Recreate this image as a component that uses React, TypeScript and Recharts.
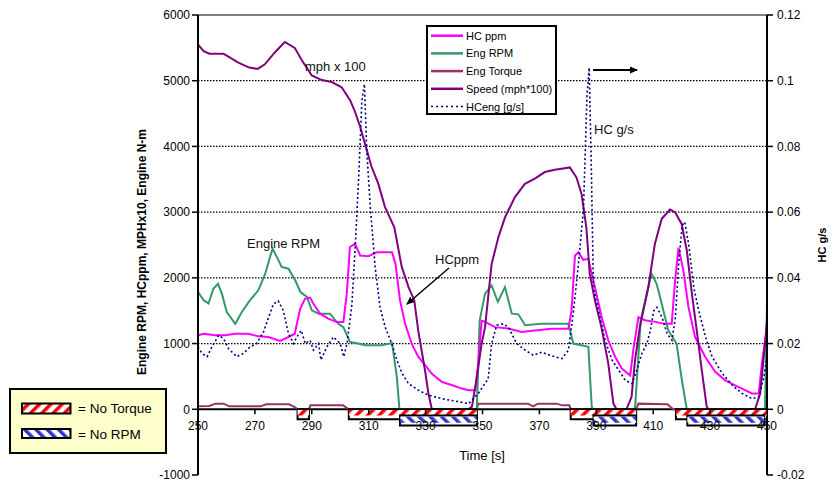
import React from 'react';
import { LineChart, Line, XAxis, YAxis, ReferenceLine, ReferenceArea } from 'recharts';

// --- data -------------------------------------------------------------

const timeTicks = [250, 270, 290, 310, 330, 350, 370, 390, 410, 430, 450];
const leftTicks = [-1000, 0, 1000, 2000, 3000, 4000, 5000, 6000];
const rightTicks = [-0.02, 0, 0.02, 0.04, 0.06, 0.08, 0.1, 0.12];
const gridValues = [1000, 2000, 3000, 4000, 5000];

// [time s, value]
const hcPpm: [number, number][] = [
  [250, 1125], [252, 1150], [256, 1125], [259.5, 1125], [263, 1150], [267.7, 1150], [271.2, 1110],
  [274.7, 1100], [278.8, 1040], [281.8, 1100], [284, 1150], [285.9, 1530], [287.6, 1680], [289.4, 1700],
  [290.5, 1610], [292.9, 1455], [295.8, 1380], [298.7, 1330], [301.1, 1330], [302.3, 1760], [303.4, 2470],
  [305.2, 2520], [307, 2340], [309.9, 2330], [312.9, 2390], [318.2, 2390], [319.4, 2215], [321, 1660],
  [322.8, 1300], [325.1, 1000], [327.4, 800], [329.9, 670], [332.2, 540], [335.8, 415], [339.4, 365],
  [342.8, 315], [345.1, 290], [347.5, 290], [348.6, 745], [349.7, 1350], [350.9, 1330], [354.4, 1250],
  [359.1, 1230], [363.8, 1175], [368.4, 1200], [374.3, 1225], [380.2, 1225], [381.3, 1505], [382.5, 2340],
  [383.7, 2390], [385.4, 2275], [387.2, 2290], [389.5, 1860], [391.9, 1400], [394.2, 1050], [396.6, 800],
  [399, 620], [401.9, 515], [403, 900], [404.8, 1400], [407.1, 1355], [410.6, 1330], [414.2, 1300],
  [416.5, 1300], [417.7, 1960], [418.9, 2460], [420.6, 2115], [422.4, 1555], [424.7, 1100], [428.3, 795],
  [431.8, 570], [435.3, 440], [438.8, 365], [441.2, 315], [444.7, 240], [447.1, 240], [448.2, 695],
  [450, 1250],
];

const engRpm: [number, number][] = [
  [250, 1785], [252, 1660], [253.7, 1610], [255.4, 1835], [257, 1910], [258.4, 1760], [260.1, 1480],
  [263.1, 1300], [265.4, 1480], [268.3, 1660], [271.2, 1810], [273.6, 2060], [276.2, 2445], [277.7, 2320],
  [279.4, 2165], [281.8, 2140], [284.2, 1960], [286, 1785], [288.3, 1710], [290, 1505], [292.4, 1455],
  [296.4, 1455], [299.3, 1300], [301.1, 1250], [303.4, 1025], [306.3, 1000], [308.7, 975], [314.5, 975],
  [318.2, 1010], [319.9, 490], [320.8, 0], [348, 0], [349, 1350], [350.9, 1760], [353.2, 1885],
  [355.4, 1635], [357.9, 1860], [360.3, 1455], [362.6, 1445], [365, 1280], [370.8, 1300], [380.2, 1300],
  [381.9, 1000], [387.2, 950], [388.4, 35], [389, 0], [403.6, 0], [405.6, 1355], [408.3, 1860],
  [409.4, 2065], [411.2, 1910], [413, 1605], [415.3, 1200], [418.2, 1000], [420.1, 440], [421.8, 0],
  [449.3, 0], [450, 1600],
];

const engTorque: [number, number][] = [
  [250, 45], [254, 50], [256, 86], [259, 86], [261, 45], [272, 45], [274, 76], [282, 76], [284, 35],
  [285, 0], [289, 0], [289.5, 60], [301, 60], [303, 0], [348, 0], [348.5, 86], [366, 86], [367.8, 45],
  [369.5, 86], [376, 86], [378, 60], [380.5, 60], [381, 0], [404, 0], [404.8, 86], [415, 76], [417, 0],
  [449.5, 0], [450, 86],
];

// speed is plotted as mph*100
const speed: [number, number][] = [
  [250, 5550], [252, 5450], [254, 5410], [259, 5410], [261, 5360], [264, 5280], [268, 5200], [271, 5180],
  [273.5, 5250], [277, 5430], [280.5, 5590], [284, 5500], [286.5, 5310], [290, 5080], [293.5, 5010],
  [297, 4980], [300.5, 4900], [303.5, 4700], [305, 4550], [307, 4300], [308.7, 4040], [311, 3690],
  [313.4, 3430], [315.7, 3080], [319, 2770], [321.6, 2170], [324, 1860], [326, 1660], [327.4, 1200],
  [329.8, 590], [331, 240], [332.2, 0], [345, 0], [346.3, 40], [348, 490], [349.7, 1000], [350.9, 1250],
  [353.2, 2210], [355.6, 2620], [357.9, 2920], [361.4, 3230], [364.9, 3430], [368.4, 3510], [371.9, 3610],
  [375.4, 3645], [377.8, 3660], [380.7, 3680], [383, 3530], [384.8, 3280], [386.5, 2770], [387.7, 2060],
  [389.5, 1660], [391.8, 1250], [394.2, 700], [396, 90], [397.1, 0], [400.6, 0], [402.4, 190],
  [403.6, 740], [405.3, 1250], [408.3, 1860], [410.6, 2520], [413, 2900], [415.9, 3040], [417.7, 3000],
  [420, 2820], [421.8, 2420], [423.6, 1760], [425.3, 1200], [427.1, 590], [428.8, 40], [429.4, 0],
  [445.8, 0], [447.6, 240], [449.3, 1000], [450, 1350],
];

// HC mass rate, g/s (right axis)
const hcEng: [number, number][] = [
  [250, 0.019], [251.4, 0.017], [253.2, 0.016], [254.9, 0.019], [257.3, 0.0225], [259, 0.0215],
  [260.7, 0.0185], [263.6, 0.016], [266, 0.017], [268.3, 0.019], [270.6, 0.02], [273, 0.0235],
  [274.8, 0.028], [276.5, 0.032], [278.2, 0.033], [280, 0.03], [281.8, 0.023], [283.6, 0.02],
  [284.7, 0.022], [286.3, 0.024], [287.7, 0.02], [289.4, 0.021], [290.6, 0.018], [292.4, 0.02],
  [293.2, 0.015], [295.3, 0.019], [297.6, 0.022], [300, 0.02], [301.2, 0.016], [302.4, 0.02],
  [304.1, 0.032], [305.3, 0.05], [306.5, 0.071], [307.6, 0.094], [308.5, 0.099], [309.3, 0.079],
  [310.6, 0.061], [312.3, 0.043], [314, 0.031], [315.8, 0.025], [318.1, 0.02], [319.9, 0.015],
  [321.7, 0.011], [324, 0.0078], [327.5, 0.0058], [331, 0.0043], [335.8, 0.0032], [340.4, 0.0025],
  [345.1, 0.0017], [348.5, 0.0048], [352, 0.0093], [353.2, 0.02], [355, 0.0256], [357.3, 0.026],
  [359.1, 0.025], [362, 0.02], [365, 0.018], [367.9, 0.0164], [370.8, 0.0174], [373.8, 0.0164],
  [377.9, 0.0154], [380.2, 0.018], [382, 0.03], [383.7, 0.044], [385.5, 0.061], [386.7, 0.095],
  [387.5, 0.104], [388.2, 0.076], [389, 0.037], [390.8, 0.03], [393.1, 0.021], [395.5, 0.015],
  [397.8, 0.012], [400.2, 0.0088], [402.5, 0.0078], [404.3, 0.012], [406, 0.017], [407.8, 0.02],
  [409, 0.024], [410.2, 0.03], [411.3, 0.031], [413.1, 0.028], [414.9, 0.023], [416.6, 0.021],
  [417.8, 0.028], [419, 0.045], [420.2, 0.056], [421.1, 0.057], [422.5, 0.05], [424.3, 0.037],
  [426, 0.03], [428.4, 0.022], [430.7, 0.016], [434.2, 0.011], [437.8, 0.0073], [441.3, 0.0048],
  [444.8, 0.0032], [447.1, 0.0038], [448.9, 0.0098], [450, 0.016],
];

// [start s, end s]
const noTorque: [number, number][] = [[285, 289], [303, 348], [381, 404], [418, 450]];
const noRpm: [number, number][] = [[321, 348], [389, 404], [422, 449]];

const seriesNames = ['HC ppm', 'Eng RPM', 'Eng Torque', 'Speed (mph*100)', 'HCeng [g/s]'];

// --- layout -----------------------------------------------------------

const FONT = 'Arial, "Liberation Sans", Helvetica, sans-serif';
const W = 833;
const H = 484;
const MARGIN = { top: 15, right: 0, bottom: 0, left: 0 };
const X_AXIS_H = 9;
const LEFT_W = 198;
const RIGHT_W = 66;
const LEFT_MIN = -1000;
const LEFT_MAX = 6000;
const PLOT_H = H - MARGIN.top - MARGIN.bottom - X_AXIS_H;
// the time axis crosses the value axis at 0
const ZERO_Y = MARGIN.top + (PLOT_H * LEFT_MAX) / (LEFT_MAX - LEFT_MIN);

const COLORS = {
  hc: '#FF00FF',
  rpm: '#339966',
  torque: '#993366',
  speed: '#800080',
  hcEng: '#000080',
};

const toPoints = (rows: [number, number][]) => rows.map(([t, v]) => ({ t, v }));

const TimeTick = (props: any) => {
  const { x, payload } = props;
  return (
    <g>
      <line x1={x} x2={x} y1={ZERO_Y} y2={ZERO_Y + 5} stroke="#000" strokeWidth={1.5} />
      <text x={x} y={ZERO_Y + 21} textAnchor="middle" fontSize={12} fill="#000" fontFamily={FONT}>
        {payload.value}
      </text>
    </g>
  );
};

const Hatches = ({ prefix }: { prefix: string }) => (
  <defs>
    <pattern id={`${prefix}-red`} width="8" height="8" patternUnits="userSpaceOnUse" patternTransform="rotate(45)">
      <rect width="8" height="8" fill="#fff" />
      <rect width="3.5" height="8" fill="#FF0000" />
    </pattern>
    <pattern id={`${prefix}-blue`} width="8" height="8" patternUnits="userSpaceOnUse" patternTransform="rotate(-45)">
      <rect width="8" height="8" fill="#fff" />
      <rect width="3.5" height="8" fill="#3333CC" />
    </pattern>
    <marker id={`${prefix}-arrow`} markerWidth="8" markerHeight="8" refX="7" refY="4" orient="auto" markerUnits="userSpaceOnUse">
      <path d="M0,0.5 L8,4 L0,7.5 Z" fill="#000" />
    </marker>
  </defs>
);

const legendStyles = [
  { color: COLORS.hc, dash: undefined },
  { color: COLORS.rpm, dash: undefined },
  { color: COLORS.torque, dash: undefined },
  { color: COLORS.speed, dash: undefined },
  { color: COLORS.hcEng, dash: '2 3' },
];

const Overlay = () => (
  <svg width={W} height={H} style={{ position: 'absolute', left: 0, top: 0, pointerEvents: 'none' }} fontFamily={FONT}>
    <Hatches prefix="ov" />

    {/* series legend */}
    <rect x={427} y={26} width={129} height={88} fill="#fff" stroke="#000" strokeWidth={2} />
    {seriesNames.map((name, i) => {
      const cy = 35.7 + i * 17.7;
      return (
        <g key={name}>
          <line x1={431} x2={463} y1={cy} y2={cy} stroke={legendStyles[i].color}
            strokeWidth={legendStyles[i].dash ? 1.5 : 2.5} strokeDasharray={legendStyles[i].dash} />
          <text x={466} y={cy + 4} fontSize={11} fill="#000">{name}</text>
        </g>
      );
    })}

    {/* hatch key */}
    <rect x={10} y={389} width={156} height={64} fill="#FFFFCC" stroke="#000" strokeWidth={2} />
    <rect x={22} y={403.5} width={48.5} height={10} fill="url(#ov-red)" stroke="#000" strokeWidth={2} />
    <text x={78} y={413} fontSize={13.5} fill="#000">= No Torque</text>
    <rect x={22} y={429} width={48.5} height={9} fill="url(#ov-blue)" stroke="#000" strokeWidth={2} />
    <text x={78} y={439} fontSize={13.5} fill="#000">= No RPM</text>

    {/* annotations */}
    <text x={305} y={71} fontSize={13} fill="#111">mph x 100</text>
    <text x={247} y={248} fontSize={13} fill="#111">Engine RPM</text>
    <text x={435} y={264} fontSize={13} fill="#111">HCppm</text>
    <line x1={449} y1={268} x2={407} y2={304} stroke="#000" strokeWidth={1.5} markerEnd="url(#ov-arrow)" />
    <text x={594} y={134} fontSize={13} fill="#111">HC g/s</text>
    <line x1={593} y1={70} x2={637} y2={70} stroke="#000" strokeWidth={2} markerEnd="url(#ov-arrow)" />

    {/* axis titles */}
    <text transform="translate(146,252) rotate(-90)" textAnchor="middle" fontSize={12} fontWeight="bold" fill="#000">
      Engine RPM, HCppm, MPHx10, Engine N-m
    </text>
    <text transform="translate(826,245) rotate(-90)" textAnchor="middle" fontSize={11} fontWeight="bold" fill="#000">
      HC g/s
    </text>
    <text x={482} y={460} textAnchor="middle" fontSize={13} fill="#000">Time [s]</text>
  </svg>
);

export default function App() {
  return (
    <div style={{ position: 'absolute', left: 0, top: 0, width: W, height: H, background: '#fff', fontFamily: FONT }}>
      <LineChart width={W} height={H} margin={MARGIN}>
        <Hatches prefix="ch" />
        <XAxis
          dataKey="t"
          type="number"
          domain={[250, 450]}
          ticks={timeTicks}
          interval={0}
          height={X_AXIS_H}
          axisLine={false}
          tickLine={false}
          tick={<TimeTick />}
          allowDataOverflow
        />
        <YAxis
          yAxisId="left"
          orientation="left"
          width={LEFT_W}
          domain={[LEFT_MIN, LEFT_MAX]}
          ticks={leftTicks}
          interval={0}
          tick={{ fill: '#000', fontSize: 12, fontFamily: FONT }}
          tickSize={6}
          tickMargin={2}
          axisLine={{ stroke: '#000', strokeWidth: 2 }}
          tickLine={{ stroke: '#000', strokeWidth: 1.5 }}
        />
        <YAxis
          yAxisId="right"
          orientation="right"
          width={RIGHT_W}
          domain={[-0.02, 0.12]}
          ticks={rightTicks}
          interval={0}
          tickFormatter={(v: number) => String(v)}
          tick={{ fill: '#000', fontSize: 12, fontFamily: FONT, textAnchor: 'start' }}
          tickSize={6}
          tickMargin={4}
          axisLine={{ stroke: '#000', strokeWidth: 2 }}
          tickLine={{ stroke: '#000', strokeWidth: 1.5 }}
        />

        {gridValues.map((v) => (
          <ReferenceLine key={v} yAxisId="left" y={v} stroke="#000" strokeWidth={1.2} strokeDasharray="1.5 1.5" />
        ))}
        <ReferenceLine yAxisId="left" y={LEFT_MAX} stroke="#808080" strokeWidth={2} />
        <ReferenceLine yAxisId="left" y={0} stroke="#000" strokeWidth={2} />

        <Line data={toPoints(engTorque)} yAxisId="left" dataKey="v" name={seriesNames[2]} stroke={COLORS.torque}
          strokeWidth={2} dot={false} type="linear" isAnimationActive={false} />
        <Line data={toPoints(engRpm)} yAxisId="left" dataKey="v" name={seriesNames[1]} stroke={COLORS.rpm}
          strokeWidth={2} dot={false} type="linear" isAnimationActive={false} />
        <Line data={toPoints(hcPpm)} yAxisId="left" dataKey="v" name={seriesNames[0]} stroke={COLORS.hc}
          strokeWidth={2} dot={false} type="linear" isAnimationActive={false} />
        <Line data={toPoints(speed)} yAxisId="left" dataKey="v" name={seriesNames[3]} stroke={COLORS.speed}
          strokeWidth={2} dot={false} type="linear" isAnimationActive={false} />
        <Line data={toPoints(hcEng)} yAxisId="right" dataKey="v" name={seriesNames[4]} stroke={COLORS.hcEng}
          strokeWidth={1.6} strokeDasharray="2 2.5" dot={false} type="linear" isAnimationActive={false} />

        {/* periods with no torque / no rpm, hung below the time axis */}
        {noTorque.map(([a, b]) => (
          <ReferenceArea key={`tq-${a}`} yAxisId="left" x1={a} x2={b} y1={0} y2={-150}
            fill="#fff" fillOpacity={1} stroke="#000" strokeWidth={2} zIndex={700} />
        ))}
        {noTorque.map(([a, b]) => (
          <ReferenceArea key={`tqh-${a}`} yAxisId="left" x1={a} x2={b} y1={-10} y2={-95}
            fill="url(#ch-red)" fillOpacity={1} stroke="none" zIndex={701} />
        ))}
        {noRpm.map(([a, b]) => (
          <ReferenceArea key={`rpm-${a}`} yAxisId="left" x1={a} x2={b} y1={-95} y2={-245}
            fill="#fff" fillOpacity={1} stroke="#000" strokeWidth={2} zIndex={702} />
        ))}
        {noRpm.map(([a, b]) => (
          <ReferenceArea key={`rpmh-${a}`} yAxisId="left" x1={a} x2={b} y1={-115} y2={-205}
            fill="url(#ch-blue)" fillOpacity={1} stroke="none" zIndex={703} />
        ))}
      </LineChart>
      <Overlay />
    </div>
  );
}
